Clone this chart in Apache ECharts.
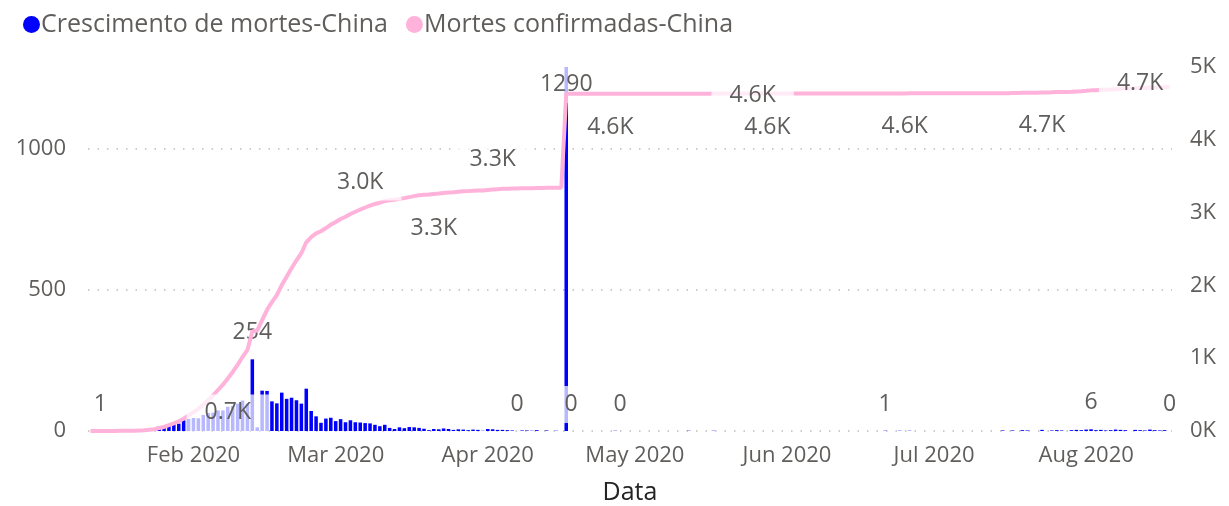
<!DOCTYPE html>
<html><head><meta charset="utf-8">
<script src="https://cdn.jsdelivr.net/npm/echarts@6/dist/echarts.min.js"></script>
<style>html,body{margin:0;padding:0;background:#fff}#c{width:1229px;height:506px}</style>
</head><body><div id="c"></div>
<script>
// ---------- DATA ----------
const startDate = [2020, 0, 11]; // 2020-01-11, one category per day
const monthNames = ['Jan','Feb','Mar','Apr','May','Jun','Jul','Aug','Sep','Oct','Nov','Dec'];

// Crescimento de mortes-China (daily new deaths)
const growthJan = [0,0,1,0,0,0,1,0,0,1,3,3,8,8,16,15,24,26,26,38,43];                 // Jan 11-31
const growthFeb = [46,45,57,64,65,73,73,86,89,97,108,97,254,13,143,142,105,98,136,114,118,109,97,150,71,52,29,44,47];
const growthMar = [35,42,31,38,31,30,28,27,22,17,22,11,7,13,10,14,13,11,8,3,7,6,9,7,4,6,5,3,5,4,1];
const growthApr = [7,6,4,4,3,2,0,2,2,1,3,0,2,0,1,0,1290,0,0,0,0,0,0,0,0,0,1,0,0,0];
const growthMay = [0,0,0,0,0,0,0,0,0,0,0,1,0,0,0,0,1,0,0,0,0,0,0,0,0,0,0,0,0,0,0];
const growthJun = [0,0,0,0,0,0,0,0,0,0,0,0,0,0,0,0,0,0,0,0,1,0,0,1,0,1,0,0,0,0];
const growthJul = [0,0,0,0,0,0,0,0,0,0,0,0,0,0,2,0,2,0,3,2,0,0,4,0,2,3,2,0,3,4,3];
const growthAug = [5,6,3,4,2,3,5,4,3,0,4,3,2,5,3,2,3,0];                                // Aug 1-18

// Mortes confirmadas-China (cumulative deaths)
const totalJan = [0,0,1,1,1,1,2,2,2,3,6,9,17,25,41,56,80,106,132,170,213];
const totalFeb = [259,304,361,425,490,563,636,722,811,908,1016,1113,1367,1380,1523,1665,1770,1868,2004,2118,2236,2345,2442,2592,2663,2715,2744,2788,2835];
const totalMar = [2870,2912,2943,2981,3012,3042,3070,3097,3119,3136,3158,3169,3176,3189,3199,3213,3226,3237,3245,3248,3255,3261,3270,3277,3281,3287,3292,3295,3300,3304,3305];
const totalApr = [3312,3318,3322,3326,3329,3331,3331,3333,3335,3336,3339,3339,3341,3341,3342,3342,4632,4632,4632,4632,4632,4632,4632,4632,4632,4632,4633,4633,4633,4633];
const totalMay = [4633,4633,4633,4633,4633,4633,4633,4633,4633,4633,4633,4634,4634,4634,4634,4634,4635,4635,4635,4635,4635,4635,4635,4635,4635,4635,4635,4635,4635,4635,4635];
const totalJun = [4635,4635,4635,4635,4635,4635,4635,4635,4635,4635,4635,4635,4635,4635,4635,4635,4635,4635,4635,4635,4636,4636,4636,4637,4637,4638,4638,4638,4638,4638];
const totalJul = [4638,4638,4638,4638,4638,4638,4638,4638,4638,4638,4638,4638,4638,4638,4640,4640,4642,4642,4645,4647,4647,4647,4651,4651,4653,4656,4658,4658,4661,4665,4668];
const totalAug = [4673,4679,4682,4686,4688,4691,4696,4700,4703,4703,4707,4710,4712,4717,4720,4722,4725,4725];

const leftTicks = [0, 500, 1000];
const rightTicks = ['0K','1K','2K','3K','4K','5K'];

// which points carry a data label
const barLabelDates = ['2020-01-13','2020-02-13','2020-04-07','2020-04-18','2020-04-28','2020-06-21','2020-08-02','2020-08-18'];
const barTopLabelDate = '2020-04-17';
const lineLabelDates = ['2020-02-08','2020-03-06','2020-03-21','2020-04-02','2020-04-26','2020-05-25','2020-05-28','2020-06-25','2020-07-23','2020-08-12'];

// ---------- BUILD ----------
const growth = [].concat(growthJan, growthFeb, growthMar, growthApr, growthMay, growthJun, growthJul, growthAug);
const total = [].concat(totalJan, totalFeb, totalMar, totalApr, totalMay, totalJun, totalJul, totalAug);
const dates = [];
for (let i = 0; i < growth.length; i++) {
  const d = new Date(Date.UTC(startDate[0], startDate[1], startDate[2] + i));
  dates.push(d.toISOString().slice(0, 10));
}

// label placement (style, not data)
const lineLabelPos = {
  '2020-02-08': ['bottom', 15, [0,0]],
  '2020-03-06': ['top', 8, [0,0]],
  '2020-03-21': ['bottom', 15, [0,0]],
  '2020-04-02': ['top', 10, [0,0]],
  '2020-04-26': ['bottom', 14, [0,0]],
  '2020-05-25': ['inside', 0, [0,2]],
  '2020-05-28': ['bottom', 14, [0,0]],
  '2020-06-25': ['bottom', 14, [0,0]],
  '2020-07-23': ['bottom', 14, [0,0]],
  '2020-08-12': ['inside', 0, [0,-5]]
};

const FONT = '"Segoe UI", "Open Sans", sans-serif';
const GRAY = '#605E5C';
const PINK = '#FFB2DA';
const BLUE = '#0000FF';
const labelBase = {
  show: true, fontSize: 23, color: GRAY, fontFamily: FONT,
  backgroundColor: 'rgba(255,255,255,0.72)', padding: [7, 18]
};

const barData = growth.map((v, i) => {
  const dt = dates[i];
  if (dt === barTopLabelDate) {
    return { value: v, label: Object.assign({}, labelBase, { position: 'insideTop', distance: 0, offset: [0, -1] }) };
  }
  if (barLabelDates.includes(dt)) {
    return { value: v, label: Object.assign({}, labelBase, { position: 'top', distance: 8 }) };
  }
  return v;
});

const lineData = total.map((v, i) => {
  const dt = dates[i];
  if (lineLabelDates.includes(dt)) {
    const p = lineLabelPos[dt];
    return {
      value: v, symbol: 'circle', symbolSize: 2, itemStyle: { color: PINK },
      label: Object.assign({}, labelBase, {
        position: p[0], distance: p[1], offset: p[2],
        formatter: (q) => (q.value / 1000).toFixed(1) + 'K'
      })
    };
  }
  return v;
});

const chart = echarts.init(document.getElementById('c'), null, { renderer: 'canvas' });
chart.setOption({
  animation: false,
  textStyle: { fontFamily: FONT },
  legend: {
    left: 18, top: 7, icon: 'circle', itemWidth: 17, itemHeight: 17, itemGap: 18,
    textStyle: { fontSize: 25, color: GRAY, fontFamily: FONT, padding: [0, 0, 0, -4] },
    data: [
      { name: 'Crescimento de mortes-China', itemStyle: { color: BLUE } },
      { name: 'Mortes confirmadas-China', itemStyle: { color: PINK } }
    ]
  },
  grid: { left: 88, right: 57, top: 67, bottom: 75, containLabel: false, outerBoundsMode: 'none' },
  xAxis: {
    type: 'category', data: dates, boundaryGap: true,
    axisLine: { show: false }, axisTick: { show: false },
    axisLabel: {
      interval: (idx, val) => val.slice(8) === '01',
      formatter: (v) => monthNames[+v.slice(5, 7) - 1] + ' ' + v.slice(0, 4),
      fontSize: 22, color: GRAY, margin: 14, fontFamily: FONT
    },
    name: 'Data', nameLocation: 'middle', nameGap: 49,
    nameTextStyle: { fontSize: 25, color: '#252423', fontFamily: FONT }
  },
  yAxis: [
    {
      type: 'value', min: 0, max: 1290, interval: 500, position: 'left',
      axisLine: { show: false }, axisTick: { show: false },
      axisLabel: {
        fontSize: 22, color: GRAY, margin: 22, fontFamily: FONT, showMaxLabel: false,
        formatter: (v) => leftTicks.includes(v) ? String(v) : ''
      },
      splitLine: { show: true, showMaxLine: false, lineStyle: { type: [1.5, 8], color: '#BDBDBD', width: 1.5 } }
    },
    {
      type: 'value', min: 0, max: 5000, interval: 1000, position: 'right',
      axisLine: { show: false }, axisTick: { show: false },
      axisLabel: {
        fontSize: 22, color: GRAY, margin: 18, fontFamily: FONT,
        formatter: (v) => rightTicks[Math.round(v / 1000)]
      },
      splitLine: { show: false }
    }
  ],
  series: [
    {
      name: 'Crescimento de mortes-China', type: 'bar', yAxisIndex: 0,
      data: barData, barCategoryGap: '28%',
      itemStyle: { color: BLUE }, emphasis: { disabled: true }, z: 2
    },
    {
      name: 'Mortes confirmadas-China', type: 'line', yAxisIndex: 1,
      data: lineData, symbol: 'none', showSymbol: true, showAllSymbol: true,
      lineStyle: { width: 4, color: PINK }, itemStyle: { color: PINK },
      emphasis: { disabled: true }, z: 3
    }
  ]
});
</script>
</body></html>
